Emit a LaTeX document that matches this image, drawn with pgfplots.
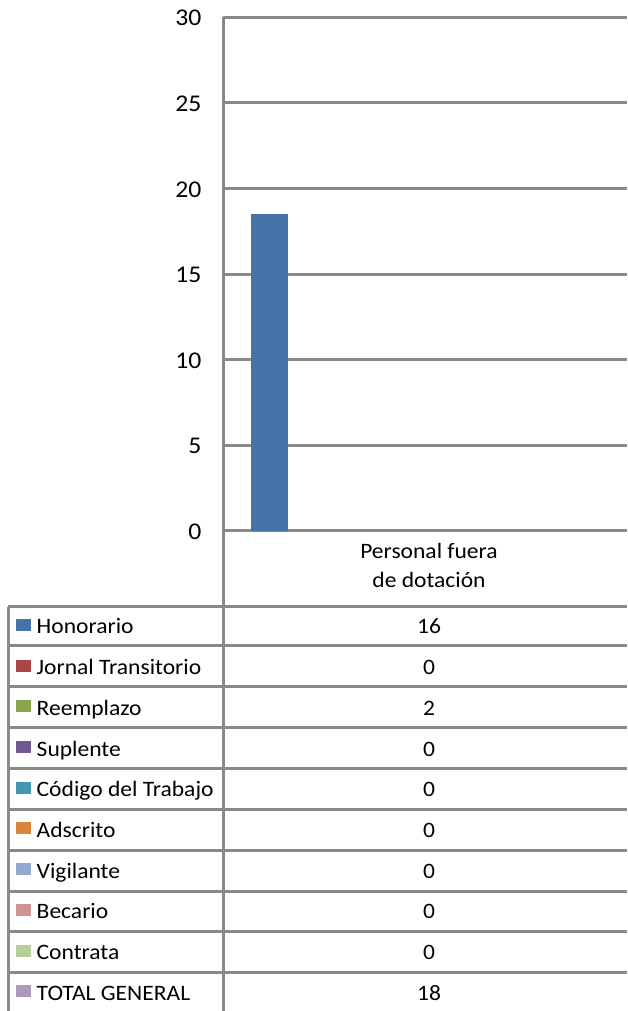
\documentclass[border=0pt]{standalone}
\usepackage{pgfplots}
\pgfplotsset{compat=1.18}
\usepackage{fontspec}
\setmainfont{Carlito}[FakeStretch=1.07]
\definecolor{gridgray}{RGB}{138,138,138}
\definecolor{barblue}{HTML}{4572A7}
\definecolor{cA}{HTML}{4572A7}
\definecolor{cB}{HTML}{AA4643}
\definecolor{cC}{HTML}{89A54E}
\definecolor{cD}{HTML}{71588F}
\definecolor{cE}{HTML}{4198AF}
\definecolor{cF}{HTML}{DB843D}
\definecolor{cG}{HTML}{93A9CF}
\definecolor{cH}{HTML}{D19392}
\definecolor{cI}{HTML}{B9CD96}
\definecolor{cJ}{HTML}{A99BBD}
\begin{document}
\begin{tikzpicture}[x=1pt,y=1pt]
\useasboundingbox (0,0) rectangle (627,1011);
\begin{axis}[
  at={(223pt,480pt)}, anchor=south west,
  scale only axis, width=404pt, height=513.7pt,
  xmin=223, xmax=627, ymin=0, ymax=30,
  ytick={0,5,...,30},
  xtick={429},
  xticklabels={{Personal fuera\\de dotación}},
  major tick length=0pt,
  axis lines*=left,
  axis line style={gridgray, line width=3pt},
  ymajorgrids,
  grid style={gridgray, line width=3pt},
  /pgf/number format/assume math mode=true,
  yticklabel style={font=\fontsize{24}{28}\selectfont, anchor=east, inner sep=0pt, xshift=-21.5pt, yshift=-1pt},
  xticklabel style={font=\fontsize{22}{29}\selectfont, align=center, anchor=north, inner sep=0pt, yshift=-12pt},
  clip=false,
]
\addplot[ybar, bar width=36.7, fill=barblue, draw=none] coordinates {(269.35,18.5)};
\end{axis}
% data table
\begin{scope}[gridgray, line width=3pt]
  \foreach \yy in {607,646,687,728,769,810,851,892,932,973} {
    \draw (8,1011-\yy) -- (627,1011-\yy);
  }
  \draw (8,1011-607) -- (8,0);
  \draw (223.3,1011-531) -- (223.3,0);
\end{scope}
\foreach \lab/\val/\col [count=\i from 0] in {
  Honorario/16/cA,
  Jornal Transitorio/0/cB,
  Reemplazo/2/cC,
  Suplente/0/cD,
  Código del Trabajo/0/cE,
  Adscrito/0/cF,
  Vigilante/0/cG,
  Becario/0/cH,
  Contrata/0/cI,
  TOTAL GENERAL/18/cJ} {
  \pgfmathsetmacro{\base}{1011-(634+40.7*\i)}
  \fill[\col] (16,\base+3) rectangle (31,\base+15);
  \node[anchor=base west, inner sep=0pt, font=\fontsize{22}{26}\selectfont] at (36.5,\base) {\lab};
  \node[anchor=base, inner sep=0pt, font=\fontsize{22}{26}\selectfont] at (429,\base) {\val};
}
\end{tikzpicture}
\end{document}
